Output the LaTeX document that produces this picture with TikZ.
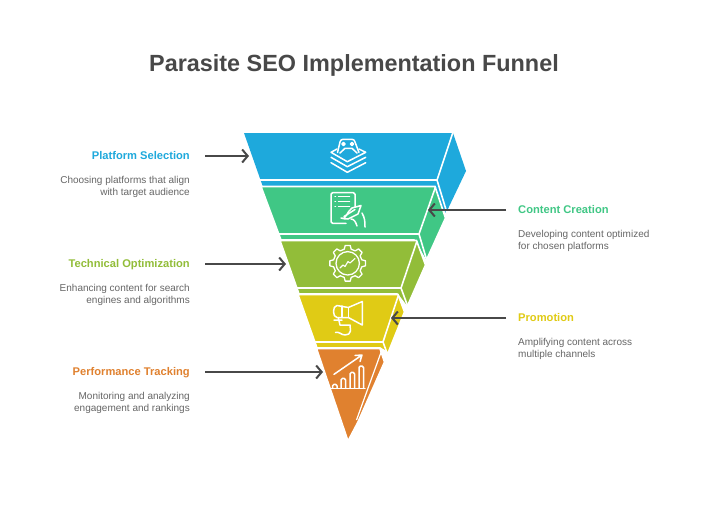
\documentclass[tikz,border=0pt]{standalone}
\usepackage{fontspec}
\setmainfont{Liberation Sans}
\usetikzlibrary{positioning, arrows.meta}
\definecolor{tblue}{HTML}{1EA9DC}
\definecolor{tgreen}{HTML}{40C785}
\definecolor{tolive}{HTML}{92BD39}
\definecolor{tyellow}{HTML}{E0CB15}
\definecolor{torange}{HTML}{E0812F}
\definecolor{ink}{HTML}{484848}
\definecolor{descink}{HTML}{666666}
\newcommand{\descfont}{\fontsize{10}{12}\selectfont}
\newcommand{\headfont}{\bfseries\fontsize{11.15}{14}\selectfont}
\begin{document}
\begin{tikzpicture}[x=1pt, y=-1pt,
    tier/.style={fill=#1, draw=white, line width=1.6pt, line join=miter},
    seam/.style={draw=white, line width=1.6pt},
    icon/.style={draw=white, line width=1.5pt, line cap=round, line join=round},
    head/.style={inner sep=0pt, text height=9pt, text depth=3pt, font=\headfont},
    desc/.style={inner sep=0pt, text=descink, font=\descfont},
    lead/.style={draw=ink, line width=2pt, shorten <=15pt, -{Straight Barb[length=5.5pt, width=13pt, line width=2pt]}}]
    \path[use as bounding box, fill=white] (0,0) rectangle (708,504);
    \node[inner sep=0pt, text=ink, font=\bfseries\fontsize{23.4}{28}\selectfont] (title) at (354,65) {Parasite SEO Implementation Funnel};

    % funnel tiers
    \path[tier=tblue, draw=none] (244,133) -- (453,133) -- (466,171) -- (446,213) -- (430,190) -- (263,187) -- cycle;
    \draw[seam] (453,132) -- (437,180) -- (260,180) (437,180) -- (447,213);
    \path[tier=tgreen] (261,186.5) -- (435,186.5) -- (445.5,218) -- (426,261) -- (414,240) -- (281,240) -- cycle;
    \draw[seam] (435.5,187) -- (419,234) -- (278,234) (419,234) -- (427,261);
    \path[tier=tolive] (280,240.5) -- (416.5,240.5) -- (425.5,265) -- (407,307) -- (397,294) -- (299,294) -- cycle;
    \draw[seam] (417,241) -- (401,288) -- (296,288) (401,288) -- (408,307);
    \path[tier=tyellow] (298,294.5) -- (398,294.5) -- (404.5,312) -- (388,353) -- (380,348) -- (317,348) -- cycle;
    \draw[seam] (398.5,295) -- (383,342) -- (313,342) (383,342) -- (387,353);
    \path[tier=torange] (316.5,348.5) -- (380,348.5) -- (384.5,362) -- (358,422) -- (348,441) -- cycle;
    \draw[seam, line width=1.2pt] (381.5,351) -- (356.5,420);

    % platform icon
    \draw[icon] (337.5,152.5) -- (340,142) to[out=80, in=180] (343,139.3) -- (352,139.3) to[out=0, in=100] (355,142) -- (359,152.5);
    \draw[icon] (340,153) -- (345,148.3) -- (352,148.3) -- (357,153);
    \draw[icon] (343.5,144) circle (1.5) (352,144) circle (1.5);
    \draw[icon] (337,149) -- (331,152.3) -- (347.3,161.7) -- (365.7,152.3) -- (359,149);
    \draw[icon] (331,157.3) -- (347.3,166.7) -- (365.7,157.3);
    \draw[icon] (331,162.7) -- (347.3,172.3) -- (365.7,162.7);

    % content icon
    \draw[icon] (346,223.3) -- (333,223.3) [rounded corners=1.5pt] -- (331,223.3) -- (331,192.7) -- (355,192.7) -- (355,207);
    \foreach \rowy in {196.7, 201.7, 206.7} {
      \draw[icon] (335,\rowy) -- (335.5,\rowy) (338.5,\rowy) -- (349.5,\rowy);
    }
    \draw[icon] (341,218) to[out=-40, in=210] (352,208) -- (361,205.5) -- (358,214) -- (348,219) to[out=200, in=0] (341,218);
    \draw[icon] (344,216.5) -- (355,209.5) (351,219) to[out=0, in=110] (357,226) (365,227) to[out=90, in=-60] (362,213);

    % optimization icon
    \begin{scope}[shift={(347.7,263.3)}]
      \draw[icon, line width=1.3pt] (0,0) circle (11.7);
      \draw[icon, line width=1.3pt] (-14:14.5) \foreach \ang in {0,45,...,315} {
        -- (\ang-14:14.5) -- (\ang-8:18) -- (\ang+8:18) -- (\ang+14:14.5)
      } -- cycle;
      \draw[icon, line width=1.1pt] (-7.7,4.7) -- (-4.7,1.7) -- (-2.7,3.2) -- (.3,-1.8) -- (2.3,-.3) -- (7.3,-4.8);
    \end{scope}

    % promotion icon
    \draw[icon] (362.3,301.5) -- (362.3,325) -- (348.3,317.5) -- (337,317.5) to[out=180, in=180] (337,305.5) -- (348.3,307.5) -- cycle;
    \draw[icon] (348.3,307.5) -- (348.3,317.5) (342,306) -- (342,317.5);
    \draw[icon] (334,320) -- (342,320) (338.3,317.5) -- (340,325) -- (350,325) -- (350.5,331) to[out=-90, in=0] (345,335) to[out=180, in=20] (335.5,332.5);

    % tracking icon
    \draw[icon] (331,388.3) -- (365,388.3);
    \foreach \barx/\bary in {332.5/384.3, 341/378.3, 350/372.3, 359/366} {
      \draw[icon, rounded corners=1.5pt] (\barx,388.3) -- (\barx,\bary) -- (\barx+4.5,\bary) -- (\barx+4.5,388.3);
    }
    \draw[icon] (334,374.3) -- (362,355) (355,355.5) -- (362,355) -- (360,361.5);

    % left labels
    \node[head, anchor=east, text=tblue] (plat) at (190,156) {Platform Selection};
    \node[desc, align=right, below=14pt of plat.south east, anchor=north east] (platText) {Choosing platforms that align\\with target audience};
    \node[head, anchor=east, text=tolive] (tech) at (190,264) {Technical Optimization};
    \node[desc, align=right, below=14pt of tech.south east, anchor=north east] (techText) {Enhancing content for search\\engines and algorithms};
    \node[head, anchor=east, text=torange] (perf) at (190,372) {Performance Tracking};
    \node[desc, align=right, below=14pt of perf.south east, anchor=north east] (perfText) {Monitoring and analyzing\\engagement and rankings};

    % right labels
    \node[head, anchor=west, text=tgreen] (cont) at (518,210) {Content Creation};
    \node[desc, align=left, below=14pt of cont.south west, anchor=north west] (contText) {Developing content optimized\\for chosen platforms};
    \node[head, anchor=west, text=tyellow] (prom) at (518,318) {Promotion};
    \node[desc, align=left, below=14pt of prom.south west, anchor=north west] (promText) {Amplifying content across\\multiple channels};

    % leaders
    \coordinate (platEnd) at (249,156);
    \coordinate (contEnd) at (428,210);
    \coordinate (techEnd) at (286,264);
    \coordinate (promEnd) at (391,318);
    \coordinate (perfEnd) at (323,372);
    \draw[lead] (plat.east) -- (platEnd);
    \draw[lead, shorten <=12pt] (cont.west) -- (contEnd);
    \draw[lead] (tech.east) -- (techEnd);
    \draw[lead, shorten <=12pt] (prom.west) -- (promEnd);
    \draw[lead] (perf.east) -- (perfEnd);
\end{tikzpicture}
\end{document}
